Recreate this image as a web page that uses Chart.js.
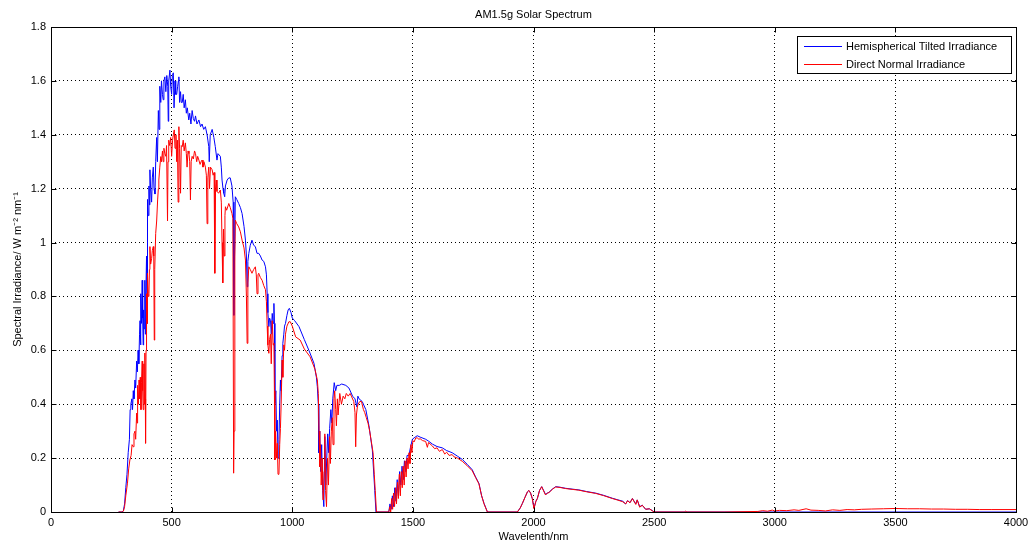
<!DOCTYPE html>
<html>
<head>
<meta charset="utf-8">
<script src="https://cdn.jsdelivr.net/npm/chart.js@4.4.0/dist/chart.umd.min.js"></script>
<style>
  html, body { margin: 0; padding: 0; background: #ffffff; }
  canvas { display: block; }
</style>
</head>
<body>
<canvas id="myChart" width="1029" height="546"></canvas>
<script>
// [wavelength nm, irradiance W m-2 nm-1]
var hemiSpectrum = [
  [280, 0], [295, 0], [300, 0.005], [305, 0.03], [310, 0.09], [315, 0.14], [320, 0.22], [325, 0.27],
  [328, 0.38], [331, 0.40], [335, 0.42], [338, 0.38], [341, 0.45], [344, 0.42], [348, 0.49], [351, 0.46],
  [355, 0.56], [358, 0.52], [361, 0.60], [364, 0.55], [367, 0.66], [369, 0.71], [371, 0.62], [373, 0.81],
  [375, 0.70], [378, 0.86], [380, 0.72], [382, 0.62], [384, 0.75], [386, 0.68], [389, 0.86], [391, 0.66],
  [393, 0.80], [396, 0.95], [398, 0.70], [400, 1.16], [403, 1.10], [406, 1.21], [408, 1.14], [410, 1.27],
  [413, 1.20], [417, 1.15], [420, 1.24], [424, 1.28], [427, 1.20], [431, 1.18], [434, 1.30], [438, 1.39],
  [441, 1.30], [445, 1.49], [448, 1.42], [451, 1.58], [455, 1.52], [458, 1.60], [462, 1.55], [465, 1.53],
  [468, 1.60], [472, 1.615], [476, 1.56], [480, 1.62], [484, 1.58], [486, 1.45], [488, 1.60], [493, 1.64],
  [496, 1.58], [500, 1.55], [503, 1.62], [507, 1.63], [510, 1.50], [514, 1.60], [517, 1.55], [521, 1.55],
  [525, 1.58], [528, 1.60], [530, 1.615], [533, 1.52], [537, 1.56], [540, 1.52], [544, 1.52], [548, 1.55],
  [552, 1.50], [557, 1.53], [561, 1.48], [565, 1.50], [571, 1.455], [575, 1.48], [580, 1.44], [585, 1.49],
  [590, 1.46], [595, 1.45], [599, 1.47], [605, 1.44], [613, 1.455], [620, 1.43], [626, 1.44], [633, 1.42],
  [640, 1.43], [647, 1.40], [654, 1.356], [656, 1.30], [660, 1.40], [668, 1.42], [675, 1.39], [681, 1.356],
  [688, 1.306], [692, 1.33], [702, 1.32], [706, 1.28], [709, 1.232], [713, 1.20], [716, 1.183], [720, 1.17],
  [723, 1.21], [730, 1.232], [737, 1.24], [743, 1.24], [750, 1.21], [755, 1.15], [758, 0.73], [761, 0.95],
  [764, 1.17], [770, 1.16], [778, 1.145], [785, 1.13], [792, 1.108], [800, 1.06], [806, 1.009], [810, 0.95],
  [813, 0.836], [816, 0.93], [820, 0.96], [826, 0.99], [833, 1.009], [840, 0.99], [847, 0.985], [854, 0.96],
  [861, 0.96], [868, 0.95], [875, 0.935], [882, 0.93], [889, 0.91], [893, 0.88], [896, 0.81], [899, 0.74],
  [903, 0.688], [906, 0.72], [910, 0.71], [913, 0.66], [917, 0.737], [921, 0.70], [924, 0.774], [926, 0.70],
  [928, 0.403], [932, 0.45], [935, 0.30], [938, 0.341], [941, 0.20], [945, 0.27], [948, 0.40], [951, 0.49],
  [954, 0.45], [958, 0.58], [961, 0.626], [965, 0.66], [968, 0.69], [972, 0.70], [978, 0.73], [983, 0.75],
  [988, 0.756], [995, 0.74], [1000, 0.72], [1010, 0.71], [1028, 0.688], [1050, 0.64], [1069, 0.60], [1080, 0.575],
  [1090, 0.552], [1100, 0.50], [1104, 0.465], [1108, 0.40], [1110, 0.22], [1114, 0.30], [1118, 0.15], [1122, 0.25],
  [1126, 0.08], [1131, 0.02], [1135, 0.28], [1139, 0.10], [1143, 0.20], [1147, 0.29], [1151, 0.22], [1155, 0.31],
  [1160, 0.38], [1164, 0.33], [1168, 0.42], [1174, 0.48], [1180, 0.45], [1185, 0.47], [1195, 0.47], [1205, 0.475],
  [1222, 0.47], [1235, 0.46], [1250, 0.43], [1260, 0.42], [1268, 0.39], [1272, 0.43], [1277, 0.42], [1290, 0.41],
  [1305, 0.38], [1318, 0.32], [1332, 0.23], [1342, 0.08], [1347, 0], [1400, 0], [1405, 0.03], [1410, 0.01],
  [1415, 0.06], [1420, 0.02], [1425, 0.09], [1430, 0.04], [1435, 0.12], [1440, 0.06], [1445, 0.15], [1450, 0.10],
  [1455, 0.17], [1460, 0.12], [1465, 0.19], [1470, 0.15], [1476, 0.21], [1484, 0.21], [1490, 0.24], [1498, 0.27],
  [1505, 0.275], [1518, 0.283], [1530, 0.278], [1553, 0.27], [1565, 0.263], [1581, 0.252], [1600, 0.243], [1622, 0.238],
  [1640, 0.228], [1663, 0.22], [1685, 0.207], [1705, 0.195], [1725, 0.177], [1746, 0.157], [1760, 0.13], [1774, 0.106],
  [1785, 0.06], [1795, 0.032], [1809, 0], [1933, 0], [1945, 0.015], [1954, 0.032], [1965, 0.055], [1975, 0.075],
  [1981, 0.08], [1988, 0.07], [1995, 0.05], [2002, 0.015], [2010, 0.04], [2016, 0.05], [2025, 0.08], [2034, 0.094],
  [2042, 0.08], [2050, 0.065], [2057, 0.07], [2064, 0.073], [2078, 0.085], [2092, 0.094], [2110, 0.092], [2133, 0.088],
  [2160, 0.085], [2188, 0.082], [2220, 0.076], [2258, 0.07], [2290, 0.062], [2327, 0.051], [2350, 0.045], [2370, 0.04],
  [2382, 0.03], [2390, 0.042], [2400, 0.035], [2410, 0.05], [2424, 0.03], [2430, 0.045], [2440, 0.02], [2451, 0.025],
  [2465, 0.01], [2480, 0.012], [2493, 0.005], [2500, 0], [4000, 0]
];

var directSpectrum = [
  [280, 0], [295, 0], [300, 0.003], [305, 0.02], [310, 0.06], [317, 0.107], [322, 0.16], [327, 0.193],
  [332, 0.21], [336, 0.25], [341, 0.242], [344, 0.29], [348, 0.30], [351, 0.27], [355, 0.367], [357, 0.33],
  [359, 0.47], [362, 0.40], [365, 0.49], [368, 0.42], [370, 0.50], [373, 0.38], [375, 0.48], [378, 0.56],
  [380, 0.45], [382, 0.38], [385, 0.55], [387, 0.40], [389, 0.59], [391, 0.42], [392, 0.255], [394, 0.60],
  [396, 0.81], [398, 0.70], [400, 0.886], [403, 0.80], [406, 0.81], [408, 0.90], [410, 0.985], [413, 0.92],
  [417, 0.94], [420, 0.97], [424, 0.985], [426, 0.95], [428, 0.638], [430, 0.90], [434, 1.034], [438, 1.08],
  [442, 1.158], [445, 1.20], [447, 1.232], [451, 1.28], [455, 1.319], [458, 1.30], [462, 1.34], [465, 1.30],
  [468, 1.35], [472, 1.33], [476, 1.32], [479, 1.36], [483, 1.08], [485, 1.30], [488, 1.38], [492, 1.36],
  [496, 1.39], [500, 1.32], [504, 1.38], [507, 1.40], [511, 1.418], [514, 1.35], [518, 1.40], [521, 1.30],
  [524, 1.38], [527, 1.15], [530, 1.43], [533, 1.35], [537, 1.183], [540, 1.36], [544, 1.356], [548, 1.38],
  [552, 1.34], [557, 1.37], [561, 1.33], [564, 1.28], [568, 1.34], [572, 1.33], [575, 1.30], [578, 1.158],
  [581, 1.30], [585, 1.32], [590, 1.31], [595, 1.34], [599, 1.33], [604, 1.30], [608, 1.32], [613, 1.306],
  [618, 1.29], [622, 1.30], [626, 1.306], [630, 1.28], [634, 1.30], [640, 1.28], [644, 1.25], [647, 1.07],
  [650, 1.24], [654, 1.28], [657, 1.20], [661, 1.28], [668, 1.27], [672, 1.25], [676, 1.26], [679, 0.886],
  [682, 1.20], [685, 1.232], [688, 1.19], [695, 1.183], [702, 1.195], [706, 1.15], [709, 1.00], [712, 0.85],
  [715, 1.05], [718, 0.95], [721, 1.10], [723, 1.133], [728, 1.12], [737, 1.145], [743, 1.13], [750, 1.108],
  [754, 1.09], [757, 0.144], [759, 0.30], [762, 0.95], [764, 1.083], [770, 1.07], [778, 1.058], [785, 1.04],
  [792, 1.009], [800, 0.98], [806, 0.935], [810, 0.80], [813, 0.626], [816, 0.85], [820, 0.91], [826, 0.90],
  [833, 0.886], [840, 0.90], [847, 0.91], [851, 0.88], [854, 0.81], [858, 0.88], [861, 0.886], [868, 0.87],
  [875, 0.86], [882, 0.84], [889, 0.825], [893, 0.78], [896, 0.69], [899, 0.62], [903, 0.589], [906, 0.64],
  [910, 0.66], [913, 0.55], [917, 0.71], [921, 0.62], [924, 0.626], [926, 0.45], [928, 0.193], [931, 0.30],
  [935, 0.20], [938, 0.255], [941, 0.14], [945, 0.144], [948, 0.25], [951, 0.31], [954, 0.40], [958, 0.564],
  [961, 0.50], [965, 0.62], [968, 0.60], [972, 0.66], [978, 0.69], [986, 0.706], [992, 0.706], [1000, 0.69],
  [1014, 0.65], [1033, 0.638], [1050, 0.605], [1074, 0.576], [1094, 0.53], [1104, 0.49], [1108, 0.44], [1111, 0.30],
  [1114, 0.168], [1117, 0.25], [1120, 0.10], [1124, 0.20], [1128, 0.045], [1132, 0.15], [1135, 0.29], [1138, 0.08],
  [1142, 0.02], [1146, 0.20], [1150, 0.10], [1155, 0.28], [1158, 0.18], [1162, 0.30], [1166, 0.35], [1169, 0.25],
  [1173, 0.42], [1176, 0.45], [1180, 0.38], [1183, 0.32], [1187, 0.42], [1190, 0.36], [1197, 0.44], [1204, 0.40],
  [1211, 0.43], [1218, 0.42], [1224, 0.44], [1232, 0.43], [1240, 0.44], [1245, 0.43], [1255, 0.41], [1260, 0.37],
  [1263, 0.242], [1266, 0.36], [1270, 0.39], [1273, 0.40], [1280, 0.41], [1287, 0.41], [1295, 0.38], [1300, 0.37],
  [1307, 0.35], [1314, 0.33], [1321, 0.30], [1328, 0.26], [1335, 0.22], [1340, 0.14], [1344, 0.08], [1349, 0],
  [1400, 0], [1405, 0.02], [1408, 0], [1412, 0.05], [1416, 0.01], [1420, 0.07], [1424, 0.02], [1428, 0.09],
  [1432, 0.03], [1436, 0.11], [1440, 0.05], [1444, 0.14], [1448, 0.06], [1452, 0.15], [1456, 0.09], [1460, 0.17],
  [1464, 0.10], [1468, 0.19], [1472, 0.13], [1476, 0.20], [1480, 0.16], [1484, 0.22], [1488, 0.18], [1492, 0.25],
  [1496, 0.22], [1500, 0.265], [1505, 0.26], [1512, 0.275], [1518, 0.275], [1525, 0.27], [1530, 0.272], [1540, 0.265],
  [1553, 0.262], [1560, 0.24], [1565, 0.258], [1581, 0.245], [1590, 0.235], [1600, 0.238], [1610, 0.225], [1622, 0.232],
  [1632, 0.215], [1640, 0.222], [1650, 0.21], [1663, 0.213], [1670, 0.205], [1685, 0.2], [1705, 0.188], [1725, 0.172],
  [1746, 0.153], [1760, 0.128], [1774, 0.104], [1785, 0.06], [1795, 0.03], [1809, 0], [1933, 0], [1945, 0.015],
  [1954, 0.032], [1965, 0.055], [1975, 0.075], [1981, 0.08], [1988, 0.07], [1995, 0.05], [2002, 0.012], [2010, 0.04],
  [2016, 0.05], [2025, 0.08], [2034, 0.094], [2042, 0.078], [2050, 0.063], [2057, 0.07], [2064, 0.072], [2078, 0.084],
  [2092, 0.093], [2110, 0.091], [2133, 0.087], [2160, 0.084], [2188, 0.081], [2220, 0.075], [2258, 0.069], [2290, 0.061],
  [2327, 0.05], [2350, 0.044], [2370, 0.038], [2382, 0.03], [2390, 0.042], [2400, 0.034], [2410, 0.05], [2424, 0.028],
  [2430, 0.045], [2440, 0.018], [2451, 0.025], [2465, 0.01], [2480, 0.012], [2493, 0.004], [2500, 0], [2625, 0],
  [2630, 0.003], [2636, 0], [2790, 0], [2930, 0.002], [2950, 0.005], [2970, 0.003], [2990, 0.007], [3000, 0.004],
  [3020, 0.006], [3050, 0.005], [3080, 0.008], [3100, 0.006], [3130, 0.012], [3150, 0.007], [3180, 0.006], [3210, 0.004],
  [3240, 0.008], [3270, 0.006], [3300, 0.009], [3330, 0.008], [3360, 0.01], [3400, 0.011], [3450, 0.012], [3500, 0.013],
  [3550, 0.012], [3600, 0.012], [3650, 0.011], [3700, 0.011], [3750, 0.01], [3800, 0.01], [3850, 0.009], [3900, 0.009],
  [4000, 0.009]
];

var xTicks = [0, 500, 1000, 1500, 2000, 2500, 3000, 3500, 4000];
var yTicks = [0, 0.2, 0.4, 0.6, 0.8, 1, 1.2, 1.4, 1.6, 1.8];
var seriesNames = ['Hemispherical Tilted Irradiance', 'Direct Normal Irradiance'];
var seriesColors = ['#0000ff', '#ff0000'];
var chartTitle = 'AM1.5g Solar Spectrum';


function toPoints(pairs) {
  return pairs.map(function(p) { return { x: p[0], y: p[1] }; });
}


Chart.defaults.font.family = '"Liberation Sans", Arial, Helvetica, sans-serif';
Chart.defaults.font.size = 11;
Chart.defaults.color = '#000000';


// MATLAB style frame: box, inward ticks, boxed legend and title
var matlabFrame = {
  id: 'matlabFrame',
  afterDatasetsDraw: function(chart) {
    var ctx = chart.ctx;
    var area = chart.chartArea;
    var xs = chart.scales.x;
    var ys = chart.scales.y;
    var L = Math.round(area.left) + 0.5, R = Math.round(area.right) + 0.5;
    var T = Math.round(area.top) + 0.5, B = Math.round(area.bottom) + 0.5;

    ctx.save();
    ctx.strokeStyle = '#000000';
    ctx.lineWidth = 1;
    ctx.beginPath();
    xTicks.forEach(function(v) {
      var px = Math.round(xs.getPixelForValue(v)) + 0.5;
      ctx.moveTo(px, B); ctx.lineTo(px, B - 5);
      ctx.moveTo(px, T); ctx.lineTo(px, T + 5);
    });
    yTicks.forEach(function(v) {
      var py = Math.round(ys.getPixelForValue(v)) + 0.5;
      ctx.moveTo(L, py); ctx.lineTo(L + 5, py);
      ctx.moveTo(R, py); ctx.lineTo(R - 5, py);
    });
    ctx.stroke();
    ctx.strokeRect(L, T, R - L, B - T);

    // legend box, top right inside the axes
    var lx = 797.5, ly = 36.5, lw = 214, lh = 37;
    ctx.fillStyle = '#ffffff';
    ctx.fillRect(lx, ly, lw, lh);
    ctx.strokeRect(lx, ly, lw, lh);
    ctx.font = '11px "Liberation Sans", Arial, sans-serif';
    ctx.textBaseline = 'middle';
    ctx.textAlign = 'left';
    for (var i = 0; i < seriesNames.length; i++) {
      var rowY = 46.5 + i * 18;
      ctx.strokeStyle = seriesColors[i];
      ctx.beginPath();
      ctx.moveTo(804, rowY); ctx.lineTo(842, rowY);
      ctx.stroke();
      ctx.fillStyle = '#000000';
      ctx.fillText(seriesNames[i], 846, rowY);
    }

    ctx.textAlign = 'center';
    ctx.fillText(chartTitle, (area.left + area.right) / 2, 15);
    ctx.restore();
  }
};


var chart = new Chart(document.getElementById('myChart'), {
  type: 'line',
  data: {
    datasets: [
      {
        label: seriesNames[0],
        data: toPoints(hemiSpectrum),
        borderColor: seriesColors[0],
        borderWidth: 1,
        pointRadius: 0,
        fill: false,
        tension: 0,
        order: 1
      },
      {
        label: seriesNames[1],
        data: toPoints(directSpectrum),
        borderColor: seriesColors[1],
        borderWidth: 1,
        pointRadius: 0,
        fill: false,
        tension: 0,
        order: 0  // red drawn over blue
      }
    ]
  },
  options: {
    responsive: false,
    animation: false,
    devicePixelRatio: 1,
    layout: {
      padding: { top: 27, right: 13, left: 0, bottom: 0 }
    },
    scales: {
      x: {
        type: 'linear',
        min: 0,
        max: 4000,
        afterBuildTicks: function(scale) { scale.ticks = xTicks.map(function(v) { return { value: v }; }); },
        afterFit: function(scale) {
          scale.height = 34;
          scale.paddingLeft = 0;   // keep the tick labels from shrinking the plot
          scale.paddingRight = 0;
        },
        grid: { color: '#000000', lineWidth: 1, drawTicks: false },
        border: { display: false, dash: [1, 3] },
        ticks: {
          color: '#000000',
          padding: 4,
          maxRotation: 0,
          autoSkip: false,
          callback: function(value) { return String(value); }
        },
        title: { display: true, text: 'Wavelenth/nm', color: '#000000', padding: { top: 0, bottom: 2 } }
      },
      y: {
        type: 'linear',
        min: 0,
        max: 1.8,
        afterBuildTicks: function(scale) { scale.ticks = yTicks.map(function(v) { return { value: v }; }); },
        afterFit: function(scale) {
          scale.width = 51;
          scale.paddingTop = 0;
          scale.paddingBottom = 0;
        },
        grid: { color: '#000000', lineWidth: 1, drawTicks: false },
        border: { display: false, dash: [1, 3] },
        ticks: {
          color: '#000000',
          padding: 5,
          callback: function(value) { return String(+value.toFixed(1)); }
        },
        title: { display: true, text: 'Spectral Irradiance/ W m⁻² nm⁻¹', color: '#000000', padding: { top: 11, bottom: 0 } }
      }
    },
    plugins: {
      legend: { display: false },
      title: { display: false },
      tooltip: { enabled: false }
    }
  },
  plugins: [matlabFrame]
});
</script>
</body>
</html>
